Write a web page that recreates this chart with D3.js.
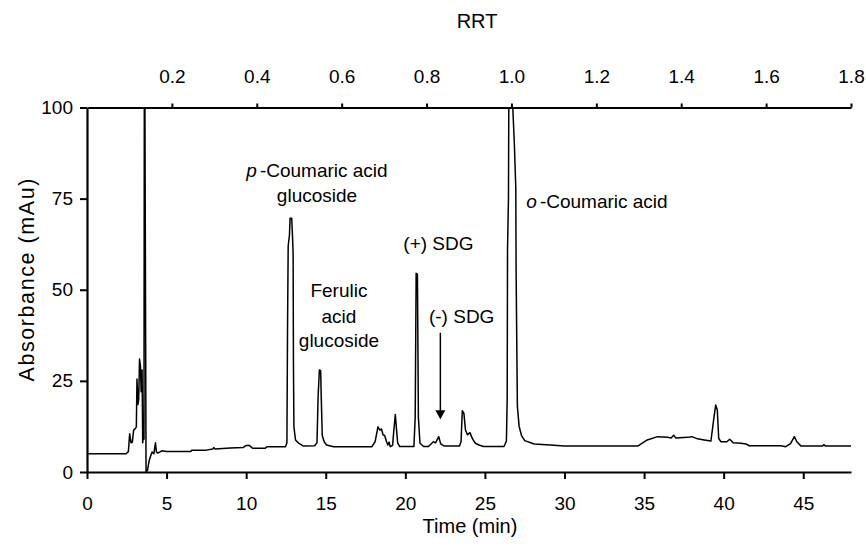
<!DOCTYPE html>
<html>
<head>
<meta charset="utf-8">
<script src="https://cdn.jsdelivr.net/npm/d3@7"></script>
<style>
  body { margin: 0; background: #fff; }
  svg { font-family: "Liberation Sans", Arial, Helvetica, sans-serif; }
  .axis path, .axis line { stroke: #000; }
  .axis text { fill: #000; font-size: 19px; }
</style>
</head>
<body>
<div id="chart"></div>
<script>
//Chromatogram (time in min, absorbance in mAu)
var timeMin = [0, 2.45, 2.6, 2.68, 2.77, 2.85, 2.93, 3.05, 3.1, 3.14, 3.2, 3.25, 3.3, 3.36, 3.4, 3.46, 3.5, 3.55, 3.58, 3.6, 3.64, 3.71, 3.8, 3.9, 3.98, 4.09, 4.2, 4.3, 4.36, 4.45, 4.7, 5.0, 6.5, 6.6, 7.5, 7.9, 7.96, 8.05, 9.0, 9.8, 10.0, 10.2, 10.4, 11.2, 11.3, 12.47, 12.56, 12.6, 12.64, 12.72, 12.76, 12.86, 12.9, 12.95, 12.97, 13.0, 13.1, 13.3, 13.6, 14.3, 14.45, 14.52, 14.6, 14.68, 14.72, 14.78, 14.9, 15.05, 15.5, 17.9, 18.1, 18.28, 18.4, 18.5, 18.6, 18.7, 18.82, 18.9, 18.98, 19.05, 19.2, 19.28, 19.37, 19.45, 19.52, 19.65, 20.54, 20.62, 20.68, 20.76, 20.82, 20.92, 21.15, 21.45, 21.76, 21.9, 22.1, 22.22, 22.45, 23.4, 23.5, 23.58, 23.68, 23.78, 23.9, 24.06, 24.16, 24.26, 24.4, 24.63, 24.9, 26.2, 26.35, 26.4, 26.42, 26.48, 26.5, 26.75, 26.85, 26.94, 26.96, 27.04, 27.15, 27.3, 27.5, 28.1, 29.1, 30.0, 34.6, 35.2, 35.85, 36.5, 36.7, 36.86, 37.0, 37.74, 38.0, 38.36, 38.78, 39.2, 39.37, 39.5, 39.6, 39.69, 39.83, 40.2, 40.38, 40.6, 41.09, 41.4, 41.6, 43.6, 43.9, 44.2, 44.44, 44.6, 44.86, 46.2, 46.3, 46.4, 48.0];
var absorbance = [5.0, 5.0, 5.6, 10.5, 8.0, 8.2, 11.5, 12.0, 12.4, 25.5, 18.5, 20, 31, 29, 22, 28, 8, 11, 9, 100, 100, 0, 0.5, 3.0, 4.2, 5.5, 5.0, 8.0, 5.5, 5.2, 5.8, 5.6, 5.6, 6.0, 6.0, 6.3, 6.7, 6.3, 6.6, 6.7, 7.3, 7.3, 6.5, 6.5, 6.95, 6.95, 8, 40, 62, 65, 69.6, 69.6, 66, 60, 30, 12.4, 8.8, 7.9, 7.1, 7.2, 8, 20.7, 28, 27.8, 20, 10, 8.3, 7.4, 6.95, 6.95, 8.3, 12.4, 11.5, 11.8, 10.2, 10, 8.3, 7.4, 8.2, 6.95, 7.3, 11.5, 15.8, 11.5, 7.9, 7.0, 7.0, 15, 54.5, 54.3, 15, 7.9, 7.0, 7.0, 8.3, 8.0, 9.7, 7.7, 7.1, 7.1, 8.3, 16.8, 16.1, 11.5, 10.2, 10.8, 9.7, 8.8, 7.9, 7.4, 7.0, 7.0, 8.5, 20, 61, 75, 100, 100, 90, 78, 55, 18, 12.5, 10, 8.6, 7.7, 7.4, 7.1, 7.1, 8.8, 9.7, 9.5, 9.3, 10.1, 9.3, 9.5, 9.7, 9.1, 8.8, 8.5, 14.3, 18.4, 17, 9.2, 8.3, 8.3, 9.0, 8.0, 7.9, 7.7, 7.2, 7.2, 6.95, 7.8, 9.7, 8.3, 7.1, 7.1, 7.5, 7.1, 7.1];

var timeTicks = [0, 5, 10, 15, 20, 25, 30, 35, 40, 45];
var absTicks = [0, 25, 50, 75, 100];
var rrtTicks = [0.2, 0.4, 0.6, 0.8, 1.0, 1.2, 1.4, 1.6, 1.8];

//Peak labels, one entry per line of text
var peakLabels = [
  ["p", "-Coumaric acid"], "glucoside",
  "Ferulic", "acid", "glucoside",
  "(+) SDG", "(-) SDG",
  ["o", "-Coumaric acid"]
];

var W = 866, H = 553;
var margin = { top: 107.5, right: 15, bottom: 81, left: 87 };
var width = W - margin.left - margin.right,
  height = H - margin.top - margin.bottom;

var svg = d3.select("#chart").append("svg")
  .attr("width", W)
  .attr("height", H);

var g = svg.append("g")
  .attr("transform", "translate(" + margin.left + "," + margin.top + ")");

var x = d3.scaleLinear().domain([0, 48]).range([0, width]);
var y = d3.scaleLinear().domain([0, 100]).range([height, 0]);
var xRRT = d3.scaleLinear().domain([0, 1.8]).range([0, width]);

//Trace, clipped to the plot box
svg.append("defs").append("clipPath").attr("id", "clip")
  .append("rect").attr("x", 0).attr("y", 0).attr("width", width).attr("height", height);

var points = timeMin.map(function(t, i) { return [t, absorbance[i]]; });
var line = d3.line()
  .x(function(d) { return x(d[0]); })
  .y(function(d) { return y(d[1]); });

g.append("path")
  .datum(points)
  .attr("clip-path", "url(#clip)")
  .attr("fill", "none")
  .attr("stroke", "#000")
  .attr("stroke-width", 1.5)
  .attr("stroke-linejoin", "round")
  .attr("d", line);

//Axes
var xAxis = g.append("g")
  .attr("class", "axis")
  .attr("transform", "translate(0," + height + ")")
  .call(d3.axisBottom(x).tickValues(timeTicks).tickSize(7).tickPadding(18).tickSizeOuter(0));

var yAxis = g.append("g")
  .attr("class", "axis")
  .call(d3.axisLeft(y).tickValues(absTicks).tickSize(7).tickPadding(7).tickSizeOuter(0));

var topAxis = g.append("g")
  .attr("class", "axis")
  .call(d3.axisTop(xRRT).tickValues(rrtTicks).tickFormat(d3.format(".1f")).tickSize(4).tickPadding(21).tickSizeOuter(0));

[xAxis, yAxis, topAxis].forEach(function(a) {
  a.select(".domain").attr("stroke-width", 2.2);
  a.selectAll(".tick line").attr("stroke-width", 2);
});

//Axis titles
svg.append("text")
  .attr("x", 470).attr("y", 533)
  .attr("text-anchor", "middle")
  .style("font-size", "20px")
  .text("Time (min)");

svg.append("text")
  .attr("x", 477).attr("y", 28)
  .attr("text-anchor", "middle")
  .style("font-size", "20px")
  .text("RRT");

svg.append("text")
  .attr("transform", "translate(34,280) rotate(-90)")
  .attr("text-anchor", "middle")
  .attr("textLength", 203)
  .attr("lengthAdjust", "spacing")
  .style("font-size", "21.5px")
  .text("Absorbance (mAu)");

//Peak annotations (anchors in data units)
var labelPos = [
  [14.45, 80.9, "middle"], [14.45, 74.2, "middle"],
  [15.83, 48.1, "middle"], [15.83, 41.0, "middle"], [15.83, 34.2, "middle"],
  [22.08, 60.9, "middle"], [23.54, 40.8, "middle"],
  [27.6, 72.3, "start"]
];

peakLabels.forEach(function(lbl, i) {
  var p = labelPos[i];
  var t = g.append("text")
    .attr("x", x(p[0]))
    .attr("y", y(p[1]))
    .attr("text-anchor", p[2])
    .style("font-size", "19px");
  if (Array.isArray(lbl)) {
    t.append("tspan").style("font-style", "italic").text(lbl[0]);
    t.append("tspan").attr("dx", 3).text(lbl[1]);
  } else {
    t.text(lbl);
  }
});

//Arrow pointing at (-) SDG
var ax = x(22.2), ay0 = y(38.2), ay1 = y(14.5);
g.append("line")
  .attr("x1", ax).attr("x2", ax)
  .attr("y1", ay0).attr("y2", ay1 - 6)
  .attr("stroke", "#000").attr("stroke-width", 1.5);
g.append("path")
  .attr("d", "M" + (ax - 5) + "," + (ay1 - 9) + "L" + (ax + 5) + "," + (ay1 - 9) + "L" + ax + "," + ay1 + "Z")
  .attr("fill", "#000");
</script>
</body>
</html>
